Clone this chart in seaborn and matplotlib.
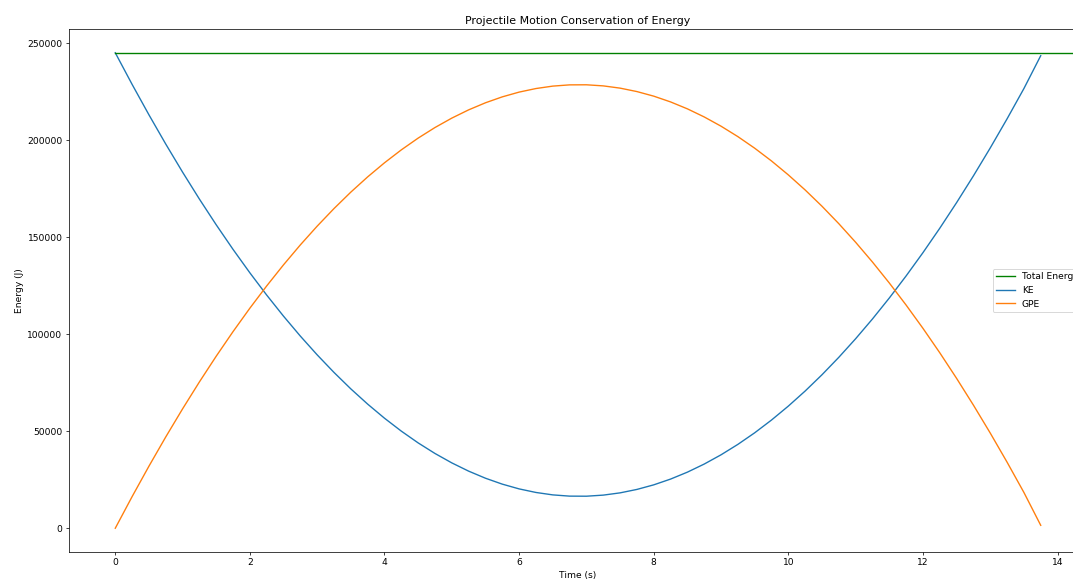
import pandas as pd
import seaborn as sns
import matplotlib.pyplot as plt

# values (every 0.25 s)
time = [0.0, 0.25, 0.5, 0.75, 1.0, 1.25, 1.5, 1.75, 2.0, 2.25, 2.5, 2.75, 3.0, 3.25,
        3.5, 3.75, 4.0, 4.25, 4.5, 4.75, 5.0, 5.25, 5.5, 5.75, 6.0, 6.25, 6.5, 6.75,
        7.0, 7.25, 7.5, 7.75, 8.0, 8.25, 8.5, 8.75, 9.0, 9.25, 9.5, 9.75, 10.0, 10.25,
        10.5, 10.75, 11.0, 11.25, 11.5, 11.75, 12.0, 12.25, 12.5, 12.75, 13.0, 13.25,
        13.5, 13.75]
gpe = [0, 16280, 31960, 47040, 61510, 75390, 88660, 101330, 113400, 124870, 135740,
       146010, 155670, 164730, 173200, 181050, 188310, 194970, 201030, 206480, 211330,
       215580, 219230, 222280, 224730, 226570, 227820, 228460, 228500, 227940, 226780,
       225010, 222650, 219680, 216110, 211940, 207170, 201800, 195830, 189250, 182070,
       174300, 165920, 156930, 147350, 137170, 126380, 114990, 103010, 90420, 77220,
       63430, 49040, 34040, 18440, 1500]
ke = [245000, 228720, 213040, 197960, 183490, 169610, 156340, 143670, 131600, 120130,
      109260, 98990, 89330, 80270, 71800, 63950, 56690, 50030, 43970, 38520, 33670,
      29420, 25770, 22720, 20270, 18430, 17180, 16540, 16500, 17060, 18220, 19990,
      22350, 25320, 28890, 33060, 37830, 43200, 49170, 55750, 62930, 70700, 79080,
      88070, 97650, 107830, 118620, 130010, 141990, 154580, 167780, 181570, 195960,
      210960, 226560, 243500]
total_energy = 245000

df = pd.DataFrame({"Time (s)": time, "KE": ke, "GPE": gpe})

dpi = 66
fig = plt.figure(figsize=(1073 / dpi, 580 / dpi), dpi=dpi)
ax = fig.add_axes([69 / 1073, 28 / 580, 1018 / 1073, 523 / 580])

sns.lineplot(data=df, x="Time (s)", y="KE", ax=ax, color="tab:blue", label="KE")
sns.lineplot(data=df, x="Time (s)", y="GPE", ax=ax, color="tab:orange", label="GPE")

# total energy line starts at t=0 and runs past the right edge
x0, x1 = ax.get_xlim()
ax.axhline(total_energy, xmin=(0 - x0) / (x1 - x0), xmax=1,
           color="green", linewidth=1.5, label="Total Energy")

handles, labels = ax.get_legend_handles_labels()
order = [labels.index("Total Energy"), labels.index("KE"), labels.index("GPE")]
ax.legend([handles[i] for i in order], [labels[i] for i in order], loc="center right")

ax.set_title("Projectile Motion Conservation of Energy")
ax.set_xlabel("Time (s)")
ax.set_ylabel("Energy (J)")

fig.savefig("out.png", dpi=dpi)
